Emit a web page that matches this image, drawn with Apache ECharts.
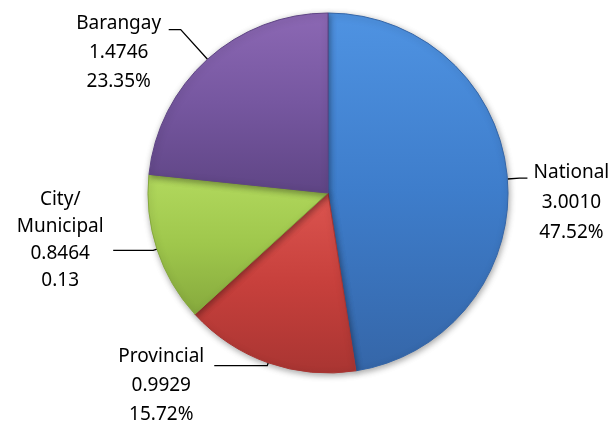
<!DOCTYPE html>
<html>
<head>
<meta charset="utf-8">
<script src="https://cdn.jsdelivr.net/npm/echarts@6/dist/echarts.min.js"></script>
<style>
  html, body { margin: 0; padding: 0; background: #fff; }
  #id_pie { width: 616px; height: 424px; }
</style>
</head>
<body>
<div id="id_pie"></div>
<script>
var sectors = ['National', 'Provincial', 'City/\nMunicipal', 'Barangay'];
var amounts = [3.0010, 0.9929, 0.8464, 1.4746];
var shares = ['47.52%', '15.72%', '0.13', '23.35%'];

var myChart = echarts.init(document.getElementById('id_pie'));

// colour, light top, dark bottom
var tones = [
    ['#4f93e2', '#3e7dcb', '#3566a8'],
    ['#dc5550', '#c7403c', '#a93532'],
    ['#b2d95e', '#9fc74c', '#86a93d'],
    ['#8c68b4', '#7657a0', '#5f4585']
];
// label box width, padding, line height, line lengths
var labelSet = [
    { w: 78, pad: [50, 0, 0, 0], lh: 30, len: 12, len2: 8 },
    { w: 96, pad: [40, 0, 0, 0], lh: 29, len: 3, len2: 53 },
    { w: 96, pad: [0, 0, 21, 0], lh: 27, len: 4, len2: 40 },
    { w: 90, pad: [46, 0, 0, 0], lh: 29, len: 40, len2: 12 }
];

function pie_data() {
    var out = [];
    for (var i = 0; i < sectors.length; i++) {
        var s = labelSet[i];
        out.push({
            name: sectors[i],
            value: amounts[i],
            itemStyle: {
                color: new echarts.graphic.LinearGradient(0, 0, 0, 1, [
                    { offset: 0, color: tones[i][0] },
                    { offset: 0.5, color: tones[i][1] },
                    { offset: 1, color: tones[i][2] }
                ]),
                borderColor: tones[i][2],
                borderWidth: 1
            },
            label: {
                padding: s.pad,
                rich: {
                    c: {
                        width: s.w,
                        align: 'center',
                        fontFamily: 'Noto Sans',
                        fontSize: 19,
                        lineHeight: s.lh,
                        color: '#000'
                    }
                }
            },
            labelLine: { length: s.len, length2: s.len2 }
        });
    }
    return out;
}

var option = {
    backgroundColor: '#ffffff',
    animation: false,
    series: [{
        type: 'pie',
        center: [328, 193],
        radius: 180,
        startAngle: 90,
        clockwise: true,
        avoidLabelOverlap: false,
        itemStyle: {
            shadowBlur: 6,
            shadowColor: 'rgba(0,0,0,0.35)',
            shadowOffsetX: 1,
            shadowOffsetY: 2
        },
        label: {
            show: true,
            position: 'outside',
            formatter: function (p) {
                var lines = p.name.split('\n');
                lines.push(p.value.toFixed(4));
                lines.push(shares[p.dataIndex]);
                return lines.map(function (t) { return '{c|' + t + '}'; }).join('\n');
            }
        },
        labelLine: {
            show: true,
            smooth: false,
            lineStyle: { color: '#000', width: 1.3 }
        },
        emphasis: { disabled: true },
        data: pie_data()
    }]
};

myChart.setOption(option);
</script>
</body>
</html>
